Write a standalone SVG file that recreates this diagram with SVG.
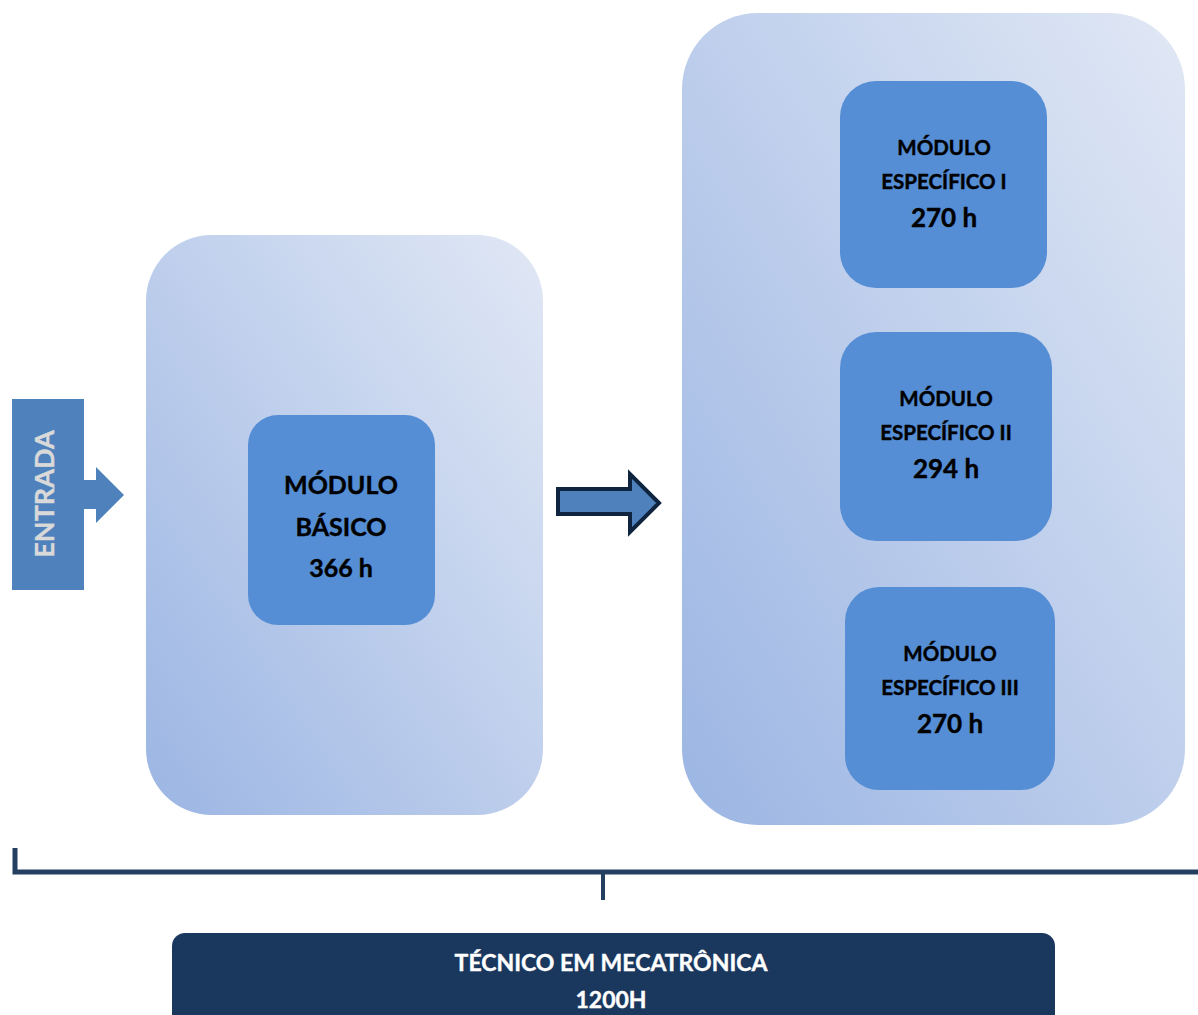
<svg xmlns="http://www.w3.org/2000/svg" width="1198" height="1015" viewBox="0 0 1198 1015">
<defs>
<linearGradient id="panel" x1="0" y1="1" x2="1" y2="0">
<stop offset="0" stop-color="#9bb5e3"/>
<stop offset="1" stop-color="#e1e8f5"/>
</linearGradient>
<style>
.panel{fill:url(#panel)}
.mod{fill:#558ed5}
.t{font-family:Lato,"Open Sans","Liberation Sans",sans-serif;font-weight:bold;fill:#000;text-anchor:middle;stroke:#000;stroke-width:0.4}
.w{fill:#fff;stroke:#fff}
</style>
</defs>
<rect width="1198" height="1015" fill="#fff"/>
<g id="panel-basic"><rect class="panel" x="146" y="235" width="397" height="580" rx="66"/></g>
<g id="panel-specific"><rect class="panel" x="682" y="13" width="503" height="812" rx="76"/></g>
<g id="entrada">
<rect x="12" y="399" width="72" height="191" fill="#4f81bd"/>
<polygon points="84,480 96,480 96,467 124,495 96,523 96,509 84,509" fill="#4f81bd"/>
<text class="t" x="0" y="0" transform="translate(54,494) rotate(-90)" font-size="27" style="fill:#d9d9d9;stroke:#d9d9d9">ENTRADA</text>
</g>
<g id="modulo-basico">
<rect class="mod" x="248" y="415" width="187" height="210" rx="30"/>
<text class="t" x="341" y="494" font-size="25">MÓDULO</text>
<text class="t" x="341" y="536" font-size="25">BÁSICO</text>
<text class="t" x="341" y="577" font-size="25">366 h</text>
</g>
<g id="modulo-esp1">
<rect class="mod" x="840" y="81" width="207" height="207" rx="36"/>
<text class="t" x="944" y="155" font-size="20.5">MÓDULO</text>
<text class="t" x="944" y="189" font-size="20.5">ESPECÍFICO I</text>
<text class="t" x="944" y="227" font-size="26">270 h</text>
</g>
<g id="modulo-esp2">
<rect class="mod" x="840" y="332" width="212" height="209" rx="36"/>
<text class="t" x="946" y="406" font-size="20.5">MÓDULO</text>
<text class="t" x="946" y="440" font-size="20.5">ESPECÍFICO II</text>
<text class="t" x="946" y="478" font-size="26">294 h</text>
</g>
<g id="modulo-esp3">
<rect class="mod" x="845" y="587" width="210" height="203" rx="34"/>
<text class="t" x="950" y="661" font-size="20.5">MÓDULO</text>
<text class="t" x="950" y="695" font-size="20.5">ESPECÍFICO III</text>
<text class="t" x="950" y="733" font-size="26">270 h</text>
</g>
<g id="connectors">
<polygon points="558,489 630,489 630,474 659,503 630,532 630,514 558,514" fill="#4f81bd" stroke="#0f243e" stroke-width="4" stroke-linejoin="miter"/>
<polyline points="15,848 15,872 1198,872" fill="none" stroke="#243f60" stroke-width="5"/>
<line x1="603" y1="872" x2="603" y2="900" stroke="#243f60" stroke-width="4"/>
</g>
<g id="tecnico">
<rect x="172" y="933" width="883" height="100" rx="13" fill="#1a375e"/>
<text class="t w" x="611" y="971" font-size="23">TÉCNICO EM MECATRÔNICA</text>
<text class="t w" x="611" y="1008" font-size="23">1200H</text>
</g>
</svg>
